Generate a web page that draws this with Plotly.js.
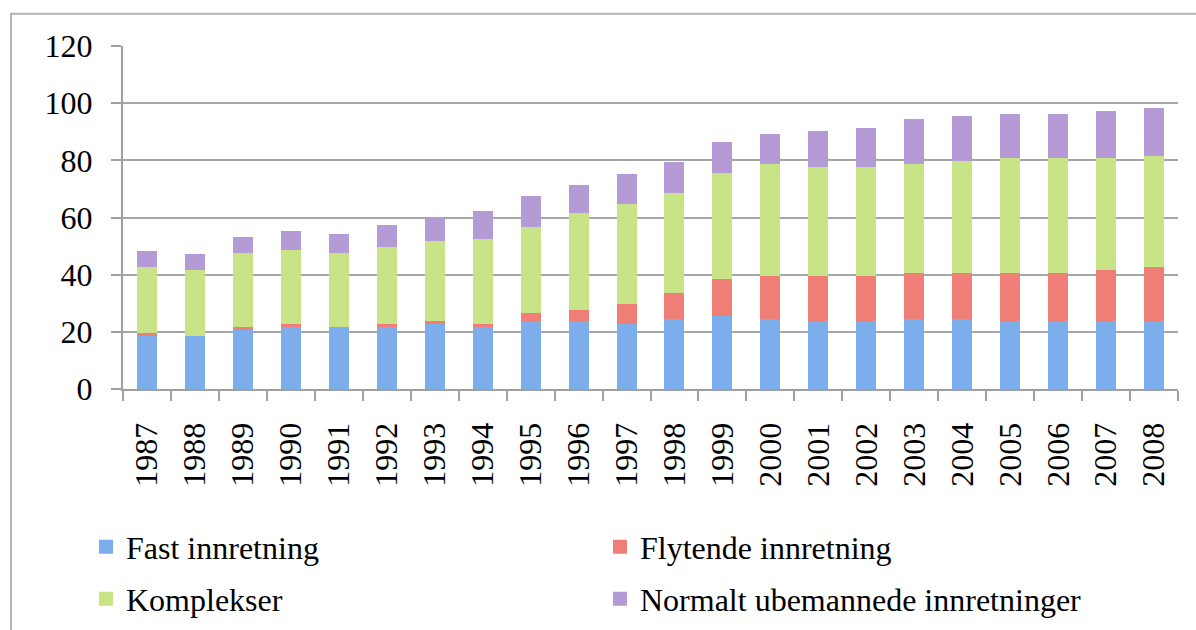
<!DOCTYPE html>
<html>
<head>
<meta charset="utf-8">
<script src="https://cdn.plot.ly/plotly-3.0.1.min.js"></script>
<style>html,body{margin:0;padding:0;background:#fff;}#chart{width:1196px;height:630px;}</style>
</head>
<body>
<div id="chart"></div>
<script>
var years = ["1987","1988","1989","1990","1991","1992","1993","1994","1995","1996","1997","1998","1999","2000","2001","2002","2003","2004","2005","2006","2007","2008"];
var fastInnretning = [19,19,21,22,22,22,23,22,24,24,23,25,26,25,24,24,25,25,24,24,24,24];
var flytendeInnretning = [1,0,1,1,0,1,1,1,3,4,7,9,13,15,16,16,16,16,17,17,18,19];
var komplekser = [23,23,26,26,26,27,28,30,30,34,35,35,37,39,38,38,38,39,40,40,39,39];
var normaltUbemannede = [5,5,5,6,6,7,8,9,10,9,10,10,10,10,12,13,15,15,15,15,16,16];
var yTicks = [0,20,40,60,80,100,120];

var seriesNames = ["Fast innretning","Flytende innretning","Komplekser","Normalt ubemannede innretninger"];
var seriesValues = [fastInnretning, flytendeInnretning, komplekser, normaltUbemannede];
var seriesColors = ["#7daeec","#ee7e76","#c9e487","#b59bd6"];
var seriesLegends = ["legend","legend","legend2","legend2"];

var traces = seriesNames.map(function(n, i){
  return {type:"bar", name:n, x:years, y:seriesValues[i], legend:seriesLegends[i],
    marker:{color:seriesColors[i], line:{width:2, color:seriesColors[i]}}, hoverinfo:"x+y+name"};
});

var W = 1196, H = 630, ml = 123, mr = 17.7, mt = 45.7, mb = 240.7;
var pw = W - ml - mr, ph = H - mt - mb;
function px2x(p){ return (p - ml) / pw; }
function py2y(p){ return (H - mb - p) / ph; }

var font = "Liberation Serif, Times New Roman, serif";
function legendAt(top){
  return {orientation:"h", traceorder:"normal", x:px2x(86), xanchor:"left", y:py2y(top), yanchor:"top",
    entrywidth:469, entrywidthmode:"pixels", font:{family:font, size:32, color:"#000"},
    bgcolor:"rgba(0,0,0,0)", itemclick:false, itemdoubleclick:false};
}
var layout = {
  width:W, height:H,
  margin:{l:ml, r:mr, t:mt, b:mb, pad:0, autoexpand:false},
  paper_bgcolor:"#ffffff", plot_bgcolor:"#ffffff",
  barmode:"stack", bargap:0.625,
  font:{family:font, size:32, color:"#000"},
  xaxis:{type:"category", showgrid:false, showline:true, linecolor:"#a0a0a0", linewidth:2,
    ticks:"outside", ticklen:10, tickwidth:2, tickcolor:"#a0a0a0", tickson:"boundaries",
    tickangle:-90, tickfont:{family:font, size:32, color:"#000"}, ticklabelstandoff:19},
  yaxis:{range:[0,120], tickvals:yTicks, showgrid:true, gridcolor:"#a6a6a6", gridwidth:2,
    showline:true, linecolor:"#a0a0a0", linewidth:2, zeroline:false,
    ticks:"outside", ticklen:10, tickwidth:2, tickcolor:"#a0a0a0",
    tickfont:{family:font, size:32, color:"#000"}, ticklabelstandoff:12},
  showlegend:true,
  legend:legendAt(520),
  legend2:legendAt(572),
  shapes:[{type:"rect", xref:"paper", yref:"paper", x0:px2x(11), x1:px2x(1250), y0:py2y(700), y1:py2y(13.3),
    line:{color:"#b4b4b4", width:2}, fillcolor:"rgba(0,0,0,0)", layer:"below"}]
};

Plotly.newPlot("chart", traces, layout, {displayModeBar:false, staticPlot:true});
</script>
</body>
</html>
